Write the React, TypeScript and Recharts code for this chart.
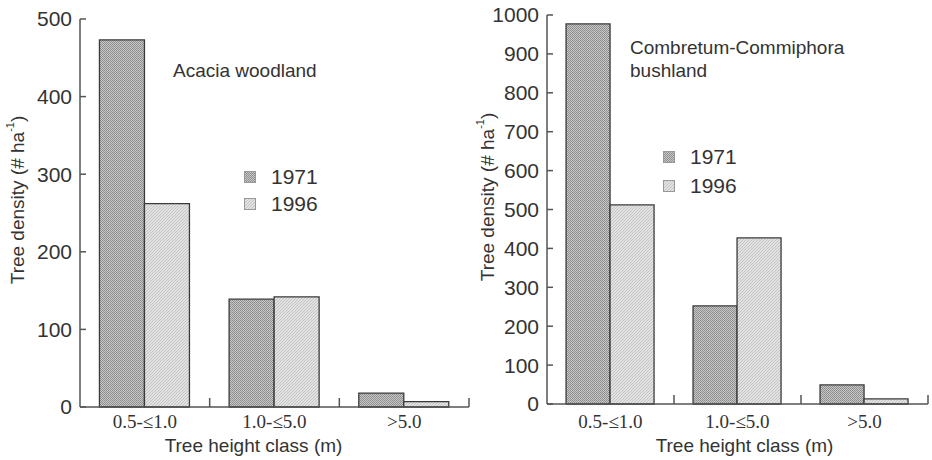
import React from 'react';
import { BarChart, Bar, XAxis, YAxis, Legend, Label } from 'recharts';

const heightClasses = ['0.5-≤1.0', '1.0-≤5.0', '>5.0'];
const acacia1971 = [473, 139, 18];
const acacia1996 = [262, 142, 7];
const bush1971 = [977, 252, 49];
const bush1996 = [512, 427, 13];
const acaciaTicks = [0, 100, 200, 300, 400, 500];
const bushTicks = [0, 100, 200, 300, 400, 500, 600, 700, 800, 900, 1000];

const SANS = 'Liberation Sans, Arial, sans-serif';
const SERIF = 'Liberation Serif, Times New Roman, serif';
const INK = '#333';
const AXIS = '#555';

const buildRows = (a: number[], b: number[]) =>
  heightClasses.map((c, i) => ({ cls: c, y1971: a[i], y1996: b[i] }));

const Patterns = ({ id }: { id: string }) => (
  <defs>
    <pattern id={`dots-${id}`} width={2} height={2} patternUnits="userSpaceOnUse">
      <rect width={2} height={2} fill="#c8c8c8" />
      <rect width={1} height={1} fill="#8a8a8a" />
      <rect x={1} y={1} width={1} height={1} fill="#939393" />
    </pattern>
    <pattern id={`hatch-${id}`} width={3} height={3} patternUnits="userSpaceOnUse">
      <rect width={3} height={3} fill="#e2e2e2" />
      <path d="M-1,1 l2,-2 M0,3 l3,-3 M2,4 l2,-2" stroke="#bcbcbc" strokeWidth={0.8} />
    </pattern>
  </defs>
);

type PanelProps = {
  id: string;
  left: number;
  width: number;
  margin: { top: number; right: number; left: number; bottom: number };
  yWidth: number;
  xHeight: number;
  max: number;
  ticks: number[];
  rows: { cls: string; y1971: number; y1996: number }[];
  labelDy: number;
  xLabelDx: number;
  yLabelPos: [number, number];
  legendPos: [number, number];
  legendGap: number;
  title: string[];
  titlePos: [number, number];
};

const H = 460;

const Panel = (p: PanelProps) => {
  const axisY = H - p.margin.bottom - p.xHeight;
  const plotW = p.width - p.margin.left - p.margin.right - p.yWidth;
  const half = plotW / heightClasses.length / 2;

  const HeightTick = (t: any) => {
    const off = t.payload && t.payload.offset ? t.payload.offset : half;
    return (
      <g>
        <text x={t.x} y={axisY + p.labelDy} textAnchor="middle" fontFamily={SERIF} fontSize={19} fill={INK}>
          {t.payload.value}
        </text>
        <line x1={t.x + off} x2={t.x + off} y1={axisY} y2={axisY - 9} stroke={AXIS} strokeWidth={1.5} />
      </g>
    );
  };

  const LegendBox = () => (
    <div style={{ fontFamily: SANS, fontSize: 21, color: INK, lineHeight: `${p.legendGap}px` }}>
      {[
        { name: '1971', fill: `url(#dots-${p.id})` },
        { name: '1996', fill: `url(#hatch-${p.id})` },
      ].map((e) => (
        <div key={e.name} style={{ display: 'flex', alignItems: 'center' }}>
          <svg width={12} height={12} style={{ marginRight: 15 }}>
            <rect x={0.5} y={0.5} width={11} height={11} fill={e.fill} stroke="#999" />
          </svg>
          <span>{e.name}</span>
        </div>
      ))}
    </div>
  );

  return (
    <div style={{ position: 'absolute', left: p.left, top: 0 }}>
      <BarChart
        width={p.width}
        height={H}
        data={p.rows}
        margin={p.margin}
        barCategoryGap="15%"
        barGap={0}
      >
        <Patterns id={p.id} />
        <XAxis
          dataKey="cls"
          height={p.xHeight}
          tickLine={false}
          axisLine={{ stroke: AXIS, strokeWidth: 1.5 }}
          tick={HeightTick}
          interval={0}
        >
          <Label
            value="Tree height class (m)"
            position="insideBottom"
            offset={8}
            dx={p.xLabelDx}
            style={{ fontFamily: SANS, fontSize: 19, fill: INK }}
          />
        </XAxis>
        <YAxis
          width={p.yWidth}
          domain={[0, p.max]}
          ticks={p.ticks}
          interval={0}
          tickSize={-6}
          tickMargin={14}
          axisLine={{ stroke: AXIS, strokeWidth: 1.5 }}
          tickLine={{ stroke: AXIS, strokeWidth: 1.5 }}
          tick={{ fontFamily: SANS, fontSize: 21, fill: INK }}
        >
          <Label
            content={() => (
              <text
                x={p.yLabelPos[0]}
                y={p.yLabelPos[1]}
                transform={`rotate(-90 ${p.yLabelPos[0]} ${p.yLabelPos[1]})`}
                textAnchor="middle"
                dominantBaseline="central"
                fontFamily={SANS}
                fontSize={19}
                fill={INK}
              >
                Tree density (# ha
                <tspan dy={-7} fontSize={11}>-1</tspan>
                <tspan dy={7}>)</tspan>
              </text>
            )}
          />
        </YAxis>
        <Legend
          layout="vertical"
          align="center"
          verticalAlign="middle"
          content={LegendBox}
          wrapperStyle={{ left: p.legendPos[0], top: p.legendPos[1], width: 'auto', height: 'auto' }}
        />
        <Bar
          dataKey="y1971"
          name="1971"
          fill={`url(#dots-${p.id})`}
          stroke="#3a3a3a"
          strokeWidth={1.3}
          isAnimationActive={false}
        />
        <Bar
          dataKey="y1996"
          name="1996"
          fill={`url(#hatch-${p.id})`}
          stroke="#3a3a3a"
          strokeWidth={1.3}
          isAnimationActive={false}
        />
        <text x={p.titlePos[0]} y={p.titlePos[1]} fontFamily={SANS} fontSize={19} fill={INK}>
          {p.title.map((line, i) => (
            <tspan key={line} x={p.titlePos[0]} dy={i === 0 ? 0 : 23}>
              {line}
            </tspan>
          ))}
        </text>
      </BarChart>
    </div>
  );
};

export default function App() {
  return (
    <div style={{ position: 'absolute', left: 0, top: 0, width: 932, height: H, background: '#fff' }}>
      <Panel
        id="a"
        left={0}
        width={470}
        margin={{ top: 19, right: 1, left: 0, bottom: 0 }}
        yWidth={80}
        xHeight={53}
        max={500}
        ticks={acaciaTicks}
        rows={buildRows(acacia1971, acacia1996)}
        labelDy={21}
        xLabelDx={-21}
        yLabelPos={[17, 200]}
        legendPos={[244, 163]}
        legendGap={27}
        title={['Acacia woodland']}
        titlePos={[173, 77]}
      />
      <Panel
        id="b"
        left={470}
        width={462}
        margin={{ top: 15, right: 4, left: 0, bottom: 0 }}
        yWidth={77}
        xHeight={56}
        max={1000}
        ticks={bushTicks}
        rows={buildRows(bush1971, bush1996)}
        labelDy={24}
        xLabelDx={7}
        yLabelPos={[17, 197]}
        legendPos={[193, 142]}
        legendGap={29}
        title={['Combretum-Commiphora', 'bushland']}
        titlePos={[160, 54]}
      />
    </div>
  );
}
